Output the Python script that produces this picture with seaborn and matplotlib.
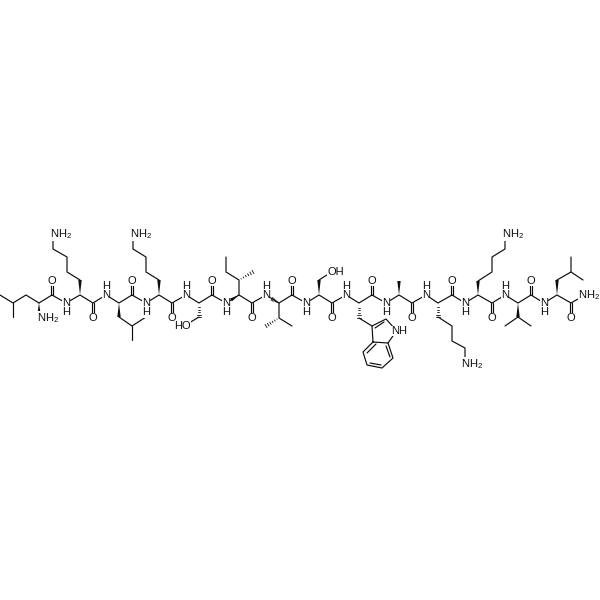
import numpy as np
import pandas as pd
import matplotlib
matplotlib.use("Agg")
import matplotlib.pyplot as plt
import seaborn as sns

# Backbone atoms, N-terminal Leu C-alpha to C-terminal amide N
backbone_x = [39,52,66,80,93,106,119,132,146,159,172,186,199,212,226,239,252,266,279,292,306,
              319,332,346,359,372,386,399,412,426,438,452,465,478,492,505,518,531,544,557,571,585]
backbone_y = [303,295]*21

# Carbonyls: carbon x, carbon y, oxygen y
carbonyl_x = [52,93,132,172,212,252,292,332,372,412,452,492,531,571]
carbonyl_y = [295,303,295,303,295,303,295,303,295,303,295,303,295,303]
oxygen_y   = [281,318,281,318,281,318,281,318,281,318,281,318,281,318]

# Side chains (plain bonds)
leu1_chain  = [(39,303),(26,295),(13,303),(0,295)]
leu1_me     = [(13,303),(13,317)]
lys2_chain  = [(80,280),(67,272),(67,257),(53,249),(53,236)]
leu3_chain  = [(119,317),(132,326),(146,317)]
leu3_me     = [(132,326),(132,340)]
lys4_chain  = [(159,280),(146,272),(146,257),(133,249),(133,236)]
ser5_chain  = [(199,317),(189,323)]
ile6_chain  = [(239,295),(239,280),(226,272),(226,257)]
val7_chain  = [(279,303),(279,318),(292,326)]
ser8_chain  = [(319,280),(330,273)]
trp9_chain  = [(359,318),(372,326),(373,342),(363,352),(367,365),(382,368),(393,358),(388,343),(373,342)]
trp9_ring   = [(372,326),(386,319),(395,329)]
trp9_ring2  = [(388,343),(395,333)]
lys11_chain = [(438,317),(452,326),(452,341),(465,348),(465,360)]
lys12_chain = [(478,281),(492,272),(492,257),(505,249),(505,236)]
val13_a     = [(518,317),(505,326)]
val13_b     = [(518,317),(531,326)]
leu14_chain = [(557,280),(571,272),(571,257)]
leu14_me    = [(571,272),(583,280)]
chains = [leu1_chain, leu1_me, lys2_chain, leu3_chain, leu3_me, lys4_chain, ser5_chain,
          ile6_chain, val7_chain, ser8_chain, trp9_chain, trp9_ring, trp9_ring2, lys11_chain,
          lys12_chain, val13_a, val13_b, leu14_chain, leu14_me]

# Second lines of ring double bonds
ring_inner = [[(375,328),(384,322)], [(376,344),(367,353)], [(370,363),(381,365)], [(390,357),(386,346)]]

# Stereo bonds: narrow end, wide end
wedges = [((39,303),(39,314)), ((80,295),(80,280)), ((119,303),(119,317)), ((159,295),(159,280)),
          ((239,295),(231,300)), ((319,295),(319,280)), ((399,295),(399,281)), ((478,295),(478,281)),
          ((518,303),(518,317)), ((557,295),(557,280))]
hashes = [((199,303),(199,317)), ((239,280),(253,272)), ((279,303),(272,299)), ((279,318),(266,326)),
          ((359,303),(359,318)), ((438,303),(438,317))]

# Amide nitrogens with their hydrogens
nh_x = [66,106,146,186,226,266,306,346,386,426,465,505,544]
nh_y = [303,295,303,295,303,295,303,295,303,295,303,295,303]
h_y  = [312,286,312,286,312,286,312,286,312,286,312,286,312]

# Left-anchored amine and hydroxyl labels
amine_x = [37,50,130,461,502,578.5]
amine_y = [318,234,234,364,234,295]
hydroxyl_text = ["HO","OH","NH"]
hydroxyl_x = [182.5,335.5,399.5]
hydroxyl_y = [326,272,331]

sns.set_theme(style="white")
plt.rcParams["font.family"] = ["Liberation Sans", "DejaVu Sans"]
plt.rcParams["mathtext.default"] = "regular"
INK = "#0d0d0d"
fig = plt.figure(figsize=(6, 6), dpi=100, facecolor="white")
ax = fig.add_axes([0, 0, 1, 1])

rows, uid = [], 0
def add(points):
    global uid
    for p in points:
        rows.append({"x": p[0], "y": p[1], "bond": uid})
    uid += 1

add(list(zip(backbone_x, backbone_y)))
for c in chains:
    add(c)
for x, y, oy in zip(carbonyl_x, carbonyl_y, oxygen_y):
    add([(x - 1.3, y), (x - 1.3, oy)])
    add([(x + 1.3, y), (x + 1.3, oy)])
for seg in ring_inner:
    add(seg)
bonds = pd.DataFrame(rows)
sns.lineplot(data=bonds, x="x", y="y", units="bond", estimator=None, sort=False,
             color=INK, linewidth=0.85, legend=False, ax=ax)

for a, b in wedges:
    a, b = np.array(a, float), np.array(b, float)
    d = b - a
    n = np.array([-d[1], d[0]]) / np.hypot(*d) * 1.7
    ax.fill(*zip(a, b + n, b - n), color=INK, lw=0, zorder=3)
for a, b in hashes:
    a, b = np.array(a, float), np.array(b, float)
    d = b - a
    n = np.array([-d[1], d[0]]) / np.hypot(*d)
    for t in np.linspace(0.15, 1, 6):
        c, w = a + d * t, 1.9 * t
        ax.plot(*zip(c - n * w, c + n * w), color=INK, lw=0.6, zorder=3)

font = dict(fontsize=8.0, color=INK, va="center", ha="center", zorder=5,
            bbox=dict(facecolor="white", edgecolor="none", pad=0.3))
for x, y, hy in zip(nh_x, nh_y, h_y):
    stacked = "N\nH" if hy > y else "H\nN"
    ax.text(x, (y + hy) / 2, stacked, linespacing=0.9, multialignment="center", **font)
for x, oy in zip(carbonyl_x, oxygen_y):
    ax.text(x, oy, "O", **font)
for x, y in zip(amine_x, amine_y):
    ax.text(x, y, "NH$_2$", **{**font, "ha": "left"})
for s, x, y in zip(hydroxyl_text, hydroxyl_x, hydroxyl_y):
    ax.text(x, y, s, **font)

ax.set_xlim(0, 600)
ax.set_ylim(600, 0)
ax.axis("off")
fig.savefig("out.png", dpi=100, facecolor="white")
